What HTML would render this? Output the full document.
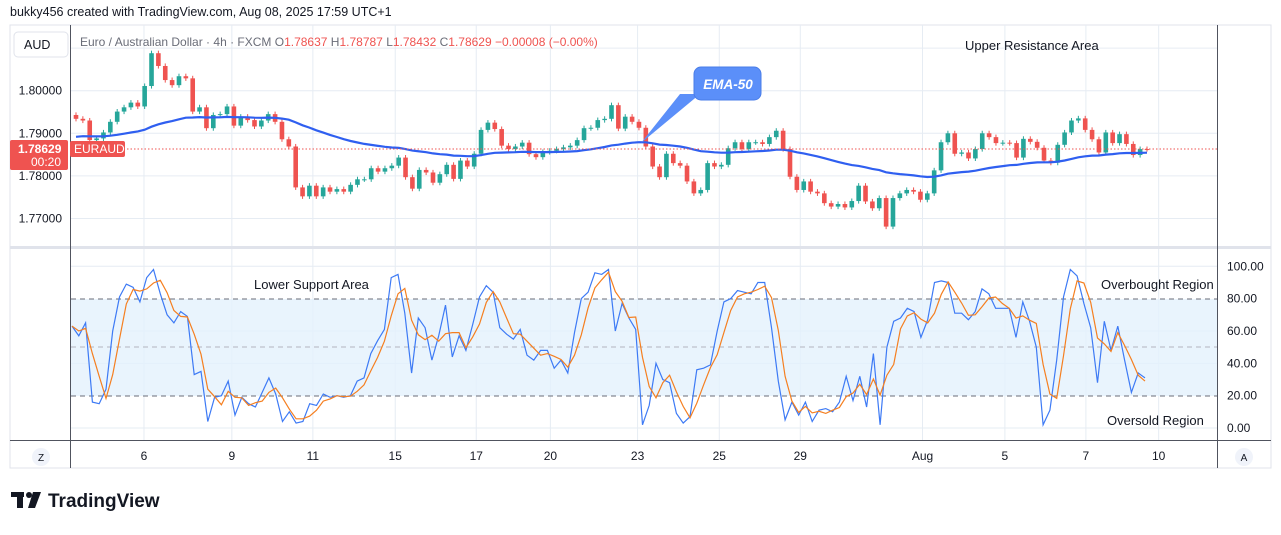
<!DOCTYPE html>
<html><head><meta charset="utf-8">
<style>
body{margin:0;background:#fff;font-family:"Liberation Sans",sans-serif;}
svg text{font-family:"Liberation Sans",sans-serif;}
</style></head>
<body>
<svg id="c" width="1281" height="530" viewBox="0 0 1281 530" xmlns="http://www.w3.org/2000/svg">
<rect x="0" y="0" width="1281" height="530" fill="#fff"/>
<text x="10" y="16" font-size="12.5" fill="#131722">bukky456 created with TradingView.com, Aug 08, 2025 17:59 UTC+1</text>
<rect x="10" y="25" width="1261" height="443" fill="#fff" stroke="#e0e3eb"/>
<g id="grid"></g>
<rect x="71" y="299" width="1146" height="97" fill="#e3f1fd" opacity="0.8"/>
<line x1="71" x2="1217" y1="299" y2="299" stroke="#6a6d78" stroke-dasharray="5,4"/>
<line x1="71" x2="1217" y1="396" y2="396" stroke="#6a6d78" stroke-dasharray="5,4"/>
<line x1="71" x2="1217" y1="347" y2="347" stroke="#b2b5be" stroke-dasharray="5,4"/>
<line x1="10" x2="1271" y1="247.5" y2="247.5" stroke="#e0e3eb" stroke-width="3"/>
<g id="candles"></g>
<g id="osc"></g>
<line x1="70.5" x2="70.5" y1="25" y2="468" stroke="#50535e"/>
<line x1="1217.5" x2="1217.5" y1="25" y2="468" stroke="#50535e"/>
<line x1="10" x2="1271" y1="440.5" y2="440.5" stroke="#50535e"/>
<line x1="71" x2="1217" y1="149" y2="149" stroke="#ef5350" stroke-dasharray="1.5,2"/>
<g id="axes"></g>
<rect x="14" y="32" width="54" height="25" rx="4" fill="#fff" stroke="#e0e3eb"/>
<text x="24" y="49" font-size="12.5" fill="#131722">AUD</text>
<text x="80" y="46" font-size="12" fill="#6a6d78">Euro / Australian Dollar · 4h · FXCM  O<tspan fill="#ef5350">1.78637</tspan>  H<tspan fill="#ef5350">1.78787</tspan>  L<tspan fill="#ef5350">1.78432</tspan>  C<tspan fill="#ef5350">1.78629</tspan>  <tspan fill="#ef5350">−0.00008 (−0.00%)</tspan></text>
<rect x="10" y="140" width="58" height="30" rx="2" fill="#ef5350"/>
<text x="18" y="153" font-size="12" font-weight="bold" fill="#fff">1.78629</text>
<text x="31" y="166" font-size="12" fill="#fff">00:20</text>
<rect x="70" y="141" width="55" height="16" rx="2" fill="#ef5350"/>
<text x="74" y="153" font-size="12" fill="#fff">EURAUD</text>
<g>
<polygon points="641,143 680,94 700,94" fill="#5b8ff9"/>
<rect x="694" y="67" width="67" height="33" rx="7" fill="#5b8ff9" stroke="#4a7de8"/>
<text x="728" y="89" font-size="13.5" font-style="italic" font-weight="bold" fill="#fff" text-anchor="middle">EMA-50</text>
</g>
<text x="965" y="50" font-size="13" fill="#131722">Upper Resistance Area</text>
<text x="254" y="289" font-size="13" fill="#131722">Lower Support Area</text>
<text x="1101" y="289" font-size="13" fill="#131722">Overbought Region</text>
<text x="1107" y="425" font-size="13" fill="#131722">Oversold Region</text>
<circle cx="41" cy="457" r="9" fill="#f0f3fa"/>
<text x="41" y="461" font-size="10" fill="#131722" text-anchor="middle">Z</text>
<circle cx="1244" cy="457" r="9" fill="#f0f3fa"/>
<text x="1244" y="461" font-size="10" fill="#131722" text-anchor="middle">A</text>
<g>
<rect x="11" y="492" width="13" height="5" fill="#131722"/><rect x="17" y="492" width="6" height="16" fill="#131722"/>
<circle cx="29" cy="495" r="3" fill="#131722"/><polygon points="33,492 41,492 35,508 28,508" fill="#131722"/>
<text x="48" y="507" font-size="19" font-weight="bold" fill="#131722">TradingView</text>
</g>
</svg>
<script>
const closes=[1.7934,1.7930,1.7884,1.7888,1.7902,1.7927,1.7951,1.7961,1.7972,1.7963,1.8011,1.8088,1.8058,1.8025,1.8013,1.8034,1.8029,1.7951,1.7961,1.7912,1.7943,1.7945,1.7963,1.7918,1.7939,1.7931,1.7916,1.7930,1.7945,1.7927,1.7886,1.7869,1.7773,1.7752,1.7777,1.7752,1.7773,1.7763,1.7769,1.7763,1.7779,1.7792,1.7792,1.7818,1.7810,1.7818,1.7824,1.7843,1.7797,1.7770,1.7814,1.7808,1.7784,1.7804,1.7826,1.7793,1.7836,1.7822,1.7852,1.7908,1.7925,1.7910,1.7871,1.7863,1.7869,1.7878,1.7851,1.7844,1.7856,1.7859,1.7863,1.7867,1.7871,1.7884,1.7912,1.7913,1.7931,1.7934,1.7966,1.7911,1.7939,1.7927,1.7913,1.7869,1.7822,1.7797,1.7852,1.7830,1.7824,1.7787,1.7759,1.7767,1.7830,1.7822,1.7826,1.7865,1.7879,1.7863,1.7879,1.7879,1.7875,1.7891,1.7906,1.7863,1.7798,1.7767,1.7787,1.7763,1.7759,1.7736,1.7728,1.7734,1.7726,1.7741,1.7777,1.7740,1.7724,1.7748,1.7681,1.7748,1.7759,1.7767,1.7763,1.7744,1.7759,1.7813,1.7879,1.7900,1.7852,1.7855,1.7841,1.7863,1.7900,1.7891,1.7877,1.7878,1.7877,1.7843,1.7887,1.7880,1.7866,1.7836,1.7831,1.7873,1.7902,1.7930,1.7935,1.7908,1.7886,1.7855,1.7902,1.7877,1.7898,1.7875,1.7849,1.7863,1.78629];
const firstOpen=1.7943;
const emaSeed=1.7890;
const stochK=[63,57,65,16,15,24,60,81,89,87,78,93,98,83,70,65,72,69,33,35,4,19,20,29,8,19,15,13,22,31,21,4,10,3,4,15,14,21,19,20,19,20,29,31,46,54,61,93,95,71,34,68,62,42,57,76,44,57,48,64,81,88,84,62,58,55,61,45,42,48,48,37,42,34,59,80,84,96,95,98,60,77,68,61,2,14,40,30,28,9,3,7,36,37,39,60,78,80,85,84,83,90,90,62,29,5,16,8,16,4,11,12,10,16,32,17,32,13,46,2,50,66,68,74,72,56,67,90,91,90,71,71,67,72,86,83,74,74,74,56,78,66,50,2,11,42,81,98,94,77,62,28,66,48,63,42,22,34,31];
const priceTicks=[1.80,1.79,1.78,1.77];
const oscTicks=[100,80,60,40,20,0];
const timeLabels=["6","9","11","15","17","20","23","25","29","Aug","5","7","10"];
const timeBarIdx=[9.9,22.7,34.5,46.5,58.3,69.1,81.8,93.7,105.5,123.3,135.3,147.1,157.7];

const NS="http://www.w3.org/2000/svg";
function mk(t,a,p){const e=document.createElementNS(NS,t);for(const k in a)e.setAttribute(k,a[k]);p.appendChild(e);return e;}
const x0=76,x1=1147;
const xBar=i=>x0+i*(x1-x0)/(closes.length-1);
const yP=p=>90.7+(1.80-p)*4260;
const xK=i=>72+i*(1145-72)/(stochK.length-1);
const yK=v=>428-v*1.617;

const grid=document.getElementById('grid'),axes=document.getElementById('axes');
timeBarIdx.forEach((b,i)=>{
  const x=xBar(b);
  const l=mk('line',{x1:x,x2:x,y1:25,y2:440,stroke:'#e6ecf3'},grid);
  
  
  const t=mk('text',{x:x,y:460,'font-size':12,fill:'#131722','text-anchor':'middle'},axes);
  
  
  t.textContent=timeLabels[i];
});
[...priceTicks,1.81].forEach(p=>{
  const l=mk('line',{x1:71,x2:1217,y1:yP(p),y2:yP(p),stroke:'#e6ecf3'},grid);
  
  
});
priceTicks.forEach(p=>{
  const t=mk('text',{x:62,y:yP(p)+4,'font-size':12,fill:'#131722','text-anchor':'end'},axes);
  
  
  t.textContent=p.toFixed(5);
});
oscTicks.forEach(v=>{
  if(v!==80&&v!==20){
    const l=mk('line',{x1:71,x2:1217,y1:yK(v),y2:yK(v),stroke:'#e6ecf3'},grid);
    
    
  }
  const t=mk('text',{x:1227,y:yK(v)+4,'font-size':12,fill:'#131722'},axes);
  
  
  t.textContent=v.toFixed(2);
});

const cg=document.getElementById('candles');
let ema=emaSeed;const emaPts=[];const a=2/51;
closes.forEach((c,i)=>{
  const o=i===0?firstOpen:closes[i-1];
  const up=c>=o,col=up?'#26a69a':'#ef5350';
  const x=xBar(i);
  const hi=Math.max(o,c)+0.0006,lo=Math.min(o,c)-0.0006;
  const w=mk('line',{x1:x,x2:x,y1:yP(hi),y2:yP(lo),stroke:col,'stroke-width':1},cg);
  
  
  const yt=yP(Math.max(o,c)),yb=yP(Math.min(o,c));
  const r=mk('rect',{x:x-2.3,y:yt,width:4.6,height:Math.max(1,yb-yt),fill:col},cg);
  
  
  ema=ema+a*(c-ema);emaPts.push(x.toFixed(1)+','+yP(ema).toFixed(1));
});
const ep=mk('polyline',{points:emaPts.join(' '),fill:'none',stroke:'#2f5ff0','stroke-width':2.2},cg);



const og=document.getElementById('osc');
const kPts=stochK.map((v,i)=>xK(i).toFixed(1)+','+yK(v).toFixed(1));
const dPts=stochK.map((v,i)=>{const s=stochK.slice(Math.max(0,i-2),i+1);const d=s.reduce((p,q)=>p+q,0)/s.length;return xK(i).toFixed(1)+','+yK(d).toFixed(1);});
const kl=mk('polyline',{points:kPts.join(' '),fill:'none',stroke:'#3d7af5','stroke-width':1.2},og);


const dl=mk('polyline',{points:dPts.join(' '),fill:'none',stroke:'#f57f20','stroke-width':1.2},og);


</script>
</body></html>
